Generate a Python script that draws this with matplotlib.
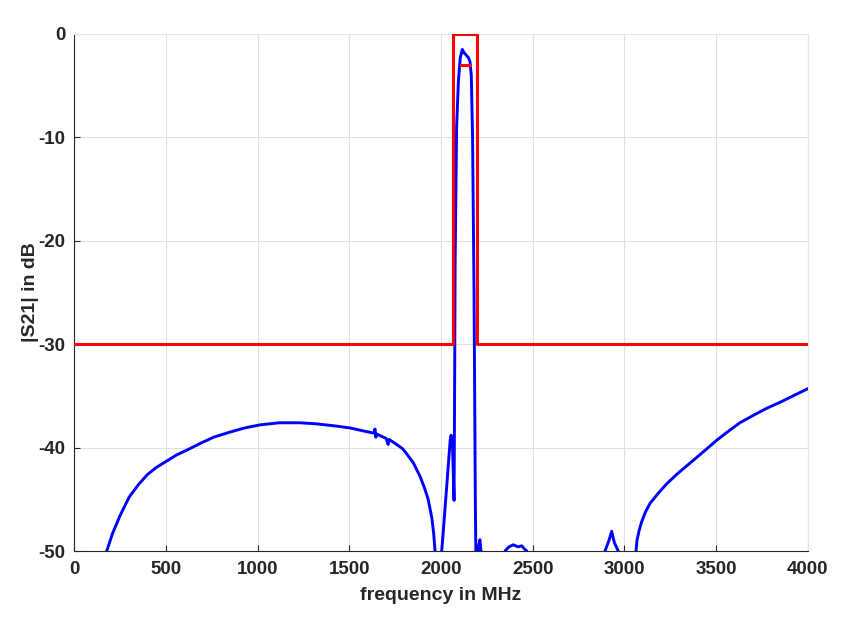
import matplotlib
matplotlib.use("Agg")
import matplotlib.pyplot as plt

freq_lobe = [150, 178, 210, 250, 300, 350, 400, 450, 505, 560, 620, 687, 760, 850, 930, 1014,
             1120, 1232, 1320, 1420, 1504, 1580, 1635, 1640, 1645, 1650, 1700, 1712, 1716,
             1750, 1790, 1813, 1850, 1886, 1910, 1930, 1950, 1960, 1967, 1980]
s21_lobe = [-53, -50, -48.3, -46.6, -44.8, -43.6, -42.6, -41.9, -41.3, -40.7, -40.2, -39.6, -39.0, -38.5, -38.1, -37.8,
            -37.6, -37.6, -37.7, -37.9, -38.1, -38.4, -38.6, -38.2, -39.0, -38.7, -39.1, -39.7, -39.2,
            -39.6, -40.1, -40.6, -41.5, -42.8, -43.9, -45.0, -46.8, -48.3, -49.9, -55]

freq_pass = [1995, 2004, 2030, 2050, 2055, 2063, 2071, 2074, 2077, 2085, 2095, 2105, 2116, 2125, 2135, 2150, 2158,
             2165, 2172, 2180, 2187, 2192, 2200, 2205, 2212, 2218, 2225]
s21_pass = [-55, -50, -44.0, -39.3, -38.8, -40.0, -45.1, -35, -22, -9, -4.5, -2.3, -1.5, -1.8, -2.0, -2.3, -2.7,
            -4, -10, -25, -45, -54, -52, -49.5, -48.9, -50, -53]

freq_mid = [2335, 2349, 2370, 2394, 2420, 2440, 2455, 2467, 2480]
s21_mid = [-52, -50, -49.6, -49.4, -49.6, -49.5, -49.8, -50, -52]

freq_bump = [2880, 2894, 2915, 2930, 2945, 2966, 2980]
s21_bump = [-52, -50, -49.0, -48.1, -49.2, -50, -52]

freq_right = [3055, 3063, 3068, 3080, 3093, 3115, 3139, 3180, 3230, 3290, 3357, 3430, 3502,
              3560, 3629, 3700, 3775, 3850, 3930, 4000]
s21_right = [-53, -50, -49, -48, -47.2, -46.2, -45.4, -44.5, -43.5, -42.5, -41.5, -40.4, -39.3,
             -38.5, -37.6, -36.9, -36.2, -35.6, -34.9, -34.3]

# spectral mask
mask_f = [0, 2065, 2065, 2195, 2195, 4000]
mask_db = [-30, -30, 0, 0, -30, -30]
ripple_f = [2110, 2160]
ripple_db = [-3, -3]

plt.rcParams['font.family'] = ['Liberation Sans', 'DejaVu Sans']
plt.rcParams['axes.unicode_minus'] = False
fig = plt.figure(figsize=(8.66, 6.29), dpi=100)
ax = fig.add_axes([0.0855, 0.124, 0.8475, 0.822])

for f, s in [(freq_lobe, s21_lobe), (freq_pass, s21_pass), (freq_mid, s21_mid),
             (freq_bump, s21_bump), (freq_right, s21_right)]:
    ax.plot(f, s, color='#0000ff', linewidth=2.1, zorder=3)
ax.plot(mask_f, mask_db, color='#ff0000', linewidth=2.2, zorder=4)
ax.plot(ripple_f, ripple_db, color='#ff0000', linewidth=2.2, zorder=4)

ax.set_xlim(0, 4000)
ax.set_ylim(-50, 0)
ax.set_xticks(range(0, 4001, 500))
ax.set_yticks(range(-50, 1, 10))
ax.grid(True, color='#e0e0e0', linewidth=0.8)
ax.set_axisbelow(True)
for side in ['top', 'right']:
    ax.spines[side].set_color('#e6e6e6')
for side in ['left', 'bottom']:
    ax.spines[side].set_color('#262626')
    ax.spines[side].set_linewidth(0.8)
ax.tick_params(direction='in', length=4, width=0.8, colors='#262626', labelsize=13.5,
               top=False, right=False)
ax.tick_params(axis='x', pad=7)
ax.tick_params(axis='y', pad=6)
for lbl in ax.get_xticklabels() + ax.get_yticklabels():
    lbl.set_fontweight('bold')
ax.set_xlabel('frequency in MHz', fontsize=14, fontweight='bold', color='#262626', labelpad=7)
ax.set_ylabel('|S21| in dB', fontsize=14, fontweight='bold', color='#262626', labelpad=0)

fig.savefig('out.png', dpi=100)
